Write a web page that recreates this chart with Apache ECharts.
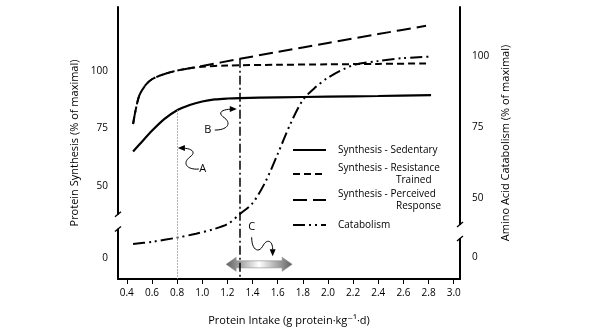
<!DOCTYPE html>
<html>
<head>
<meta charset="utf-8">
<script src="https://cdn.jsdelivr.net/npm/echarts@6/dist/echarts.min.js"></script>
<style>
  html, body { margin: 0; padding: 0; background: #fff; }
  #chart { width: 600px; height: 333px; }
</style>
</head>
<body>
<div id="chart"></div>
<script>
// Protein intake (g protein per kg per day) tick marks on the x axis
const intakeTicks = [0.4, 0.6, 0.8, 1.0, 1.2, 1.4, 1.6, 1.8, 2.0, 2.2, 2.4, 2.6, 2.8, 3.0];
const synthesisTicks = [0, 50, 75, 100];
const catabolismTicks = [0, 50, 75, 100];

// Protein synthesis (% of maximal), left axis
const sedentary = [
  [0.45, 65], [0.5, 68], [0.6, 74], [0.7, 79.2], [0.8, 83], [0.9, 85.3], [1.0, 86.8],
  [1.1, 87.7], [1.2, 88.1], [1.3, 88.3], [1.6, 88.6], [2.0, 88.9], [2.4, 89.2], [2.82, 89.6]
];
const resistanceTrained = [
  [0.45, 77], [0.47, 83], [0.5, 89.5], [0.55, 94], [0.6, 96.5], [0.7, 98.8], [0.8, 100.3],
  [0.9, 101.3], [1.0, 102], [1.2, 102.5], [1.6, 102.8], [2.0, 103], [2.4, 103.2], [2.78, 103.4]
];
const perceivedResponse = [
  [0.45, 77], [0.47, 83], [0.5, 89.5], [0.55, 94], [0.6, 96.5], [0.7, 98.8], [0.8, 100.3],
  [0.9, 101.3], [1.0, 102.3], [1.3, 105.4], [1.6, 108.4], [2.0, 112.3], [2.4, 116.2], [2.78, 119.8]
];

// Amino acid catabolism (% of maximal), right axis
const catabolism = [
  [0.45, 4.6], [0.6, 5.4], [0.8, 8], [0.95, 18], [1.08, 29], [1.2, 40.8], [1.3, 44.4],
  [1.4, 48.2], [1.5, 55.5], [1.6, 65.5], [1.7, 76], [1.8, 84.5], [1.9, 89], [2.0, 92.4],
  [2.2, 96.8], [2.4, 98.3], [2.6, 99.3], [2.8, 99.8]
];

// Reference intakes: RDA and the sedentary plateau
const rdaIntake = 0.8;
const plateauIntake = 1.3;

// Broken value ranges of the two y axes
const synthesisBreak = { start: 13, end: 37.4, gap: 6 };
const catabolismBreak = { start: 6.7, end: 40.5, gap: 4.6 };

// Callout tips (A, B, C) in intake / synthesis units
const calloutLetters = ['A', 'B', 'C'];
const calloutTips = [[0.806, 66.5], [1.275, 83.5], [1.56, 0.9]];

// Recommended intake range shown by the double arrow
const rangeArrow = [1.19, 1.715, -2.6];

const FONT = '"Open Sans", "DejaVu Sans", sans-serif';
const X_MIN = 0.33, X_MAX = 3.05;

function valueAt(series, x) {
  const p = series.find(d => d[0] === x);
  return p ? p[1] : null;
}

// Squiggly leader shapes, relative to each callout tip (pixels)
const calloutGlyphs = {
  A: { text: [25, 21], path: 'M21,21 C9,22 4,15 12,9 C19,4 14,0 3,0', head: [[0, 0], [7, -3], [7, 3]] },
  B: { text: [-29, 21], path: 'M-22,21 C-10,21 -5,15 -12,9 C-20,4 -16,0 -3,0', head: [[0, 0], [-7, -3], [-7, 3]] },
  C: { text: [-21, -29], path: 'M-21,-19 C-21,-6 -14,-3 -10,-10 C-6,-18 0,-16 0,-7', head: [[0, 0], [-3, -7], [3, -7]] }
};

function breakGlyph(lo, hi) {
  const x = lo[0];
  return {
    type: 'group',
    children: [
      { type: 'rect', shape: { x: x - 3, y: hi[1], width: 6, height: lo[1] - hi[1] }, style: { fill: '#fff' } },
      { type: 'line', shape: { x1: x - 3, y1: hi[1] + 2, x2: x + 3, y2: hi[1] - 3 }, style: { stroke: '#000', lineWidth: 1.3 } },
      { type: 'line', shape: { x1: x - 3, y1: lo[1] + 3, x2: x + 3, y2: lo[1] - 2 }, style: { stroke: '#000', lineWidth: 1.3 } }
    ]
  };
}

const legendRows = [
  { name: 'Synthesis - Sedentary', label: '{a|Synthesis - Sedentary}', top: 145 },
  { name: 'Synthesis - Resistance Trained', label: '{a|Synthesis - Resistance}\n{b|Trained}', top: 163 },
  { name: 'Synthesis - Perceived Response', label: '{a|Synthesis - Perceived}\n{b|Response}', top: 189 },
  { name: 'Catabolism', label: '{a|Catabolism}', top: 220 }
];

const chart = echarts.init(document.getElementById('chart'), null, { renderer: 'canvas' });

const axisText = { fontFamily: FONT, fontSize: 10, color: '#000' };
const nameText = { fontFamily: FONT, fontSize: 11, color: '#000' };
const curveSmooth = 0.3;

chart.setOption({
  animation: false,
  color: ['#000'],
  textStyle: { fontFamily: FONT },
  grid: { left: 118, right: 140, top: 7, bottom: 54 },
  legend: legendRows.map(row => ({
    data: [row.name],
    left: 292,
    top: row.top,
    padding: 0,
    itemWidth: 33,
    itemHeight: 10,
    selectedMode: false,
    itemStyle: { color: 'rgba(0,0,0,0)', borderWidth: 0, opacity: 0 },
    formatter: () => row.label,
    textStyle: {
      rich: {
        a: { fontFamily: FONT, fontSize: 10, lineHeight: 12, color: '#000', padding: [0, 0, 0, 7] },
        b: { fontFamily: FONT, fontSize: 10, lineHeight: 12, color: '#000', padding: [0, 0, 0, 65] }
      }
    }
  })),
  xAxis: {
    type: 'value',
    min: X_MIN,
    max: X_MAX,
    name: 'Protein Intake (g protein·kg⁻¹·d)',
    nameLocation: 'middle',
    nameGap: 36,
    nameTextStyle: nameText,
    axisLine: { show: true, onZero: false, lineStyle: { color: '#000', width: 2 } },
    axisTick: { show: true, customValues: intakeTicks, length: 5, lineStyle: { color: '#000', width: 1 } },
    axisLabel: { customValues: intakeTicks, formatter: v => v.toFixed(1), margin: 9, ...axisText },
    splitLine: { show: false }
  },
  yAxis: [
    {
      type: 'value',
      position: 'left',
      min: -9,
      max: 128,
      breaks: [synthesisBreak],
      breakArea: { show: false },
      name: 'Protein Synthesis (% of maximal)',
      nameLocation: 'middle',
      nameRotate: 90,
      nameGap: 36,
      nameTextStyle: nameText,
      axisLine: { show: true, onZero: false, lineStyle: { color: '#000', width: 2 } },
      axisTick: { show: false },
      axisLabel: { customValues: synthesisTicks, margin: 10, ...axisText },
      splitLine: { show: false }
    },
    {
      type: 'value',
      position: 'right',
      min: -7.7,
      max: 117.3,
      breaks: [catabolismBreak],
      breakArea: { show: false },
      name: 'Amino Acid Catabolism (% of maximal)',
      nameLocation: 'middle',
      nameRotate: 90,
      nameGap: 33,
      nameTextStyle: nameText,
      axisLine: { show: true, onZero: false, lineStyle: { color: '#000', width: 2 } },
      axisTick: { show: false },
      axisLabel: { customValues: catabolismTicks, margin: 12, ...axisText },
      splitLine: { show: false }
    }
  ],
  series: [
    {
      type: 'custom',
      name: 'range',
      silent: true,
      z: 1,
      xAxisIndex: 0,
      yAxisIndex: 0,
      data: [rangeArrow],
      renderItem(params, api) {
        const a = api.coord([api.value(0), api.value(2)]);
        const b = api.coord([api.value(1), api.value(2)]);
        const y = a[1], x1 = a[0], x2 = b[0], h = 10;
        return {
          type: 'polygon',
          shape: {
            points: [[x1, y], [x1 + h, y - 7], [x1 + h, y - 3.5], [x2 - h, y - 3.5], [x2 - h, y - 7],
                     [x2, y], [x2 - h, y + 7], [x2 - h, y + 3.5], [x1 + h, y + 3.5], [x1 + h, y + 7]]
          },
          style: {
            fill: new echarts.graphic.LinearGradient(0, 0, 1, 0, [
              { offset: 0, color: '#5e5e5e' }, { offset: 0.5, color: '#ffffff' }, { offset: 1, color: '#5e5e5e' }
            ]),
            stroke: '#8a8a8a',
            lineWidth: 0.6
          }
        };
      }
    },
    {
      name: 'Synthesis - Sedentary',
      type: 'line',
      yAxisIndex: 0,
      data: sedentary,
      smooth: curveSmooth,
      symbol: 'none',
      lineStyle: { color: '#000', width: 2.2 },
      markLine: {
        silent: true,
        symbol: ['none', 'none'],
        label: { show: false },
        lineStyle: { color: '#9a9a9a', width: 1, type: [1.5, 1.5] },
        data: [[{ coord: [rdaIntake, valueAt(sedentary, rdaIntake)] }, { coord: [rdaIntake, -9] }]]
      }
    },
    {
      name: 'Synthesis - Resistance Trained',
      type: 'line',
      yAxisIndex: 0,
      data: resistanceTrained,
      smooth: curveSmooth,
      symbol: 'none',
      lineStyle: { color: '#000', width: 2, type: [7, 4] }
    },
    {
      name: 'Synthesis - Perceived Response',
      type: 'line',
      yAxisIndex: 0,
      data: perceivedResponse,
      smooth: curveSmooth,
      symbol: 'none',
      lineStyle: { color: '#000', width: 2, type: [14, 6] },
      markLine: {
        silent: true,
        symbol: ['none', 'none'],
        label: { show: false },
        lineStyle: { color: '#000', width: 1.5, type: [9, 3, 2, 3] },
        data: [[{ coord: [plateauIntake, valueAt(perceivedResponse, plateauIntake)] }, { coord: [plateauIntake, -9] }]]
      }
    },
    {
      name: 'Catabolism',
      type: 'line',
      yAxisIndex: 1,
      data: catabolism,
      smooth: curveSmooth,
      symbol: 'none',
      lineStyle: { color: '#000', width: 2, type: [12, 4, 2, 4, 2, 4] }
    },
    {
      type: 'custom',
      name: 'callouts',
      silent: true,
      z: 6,
      xAxisIndex: 0,
      yAxisIndex: 0,
      data: calloutTips,
      renderItem(params, api) {
        const tip = api.coord([api.value(0), api.value(1)]);
        const g = calloutGlyphs[calloutLetters[params.dataIndex]];
        return {
          type: 'group',
          x: tip[0],
          y: tip[1],
          children: [
            { type: 'path', shape: { pathData: g.path }, style: { stroke: '#000', fill: null, lineWidth: 1 } },
            { type: 'polygon', shape: { points: g.head }, style: { fill: '#000' } },
            {
              type: 'text',
              x: g.text[0],
              y: g.text[1],
              style: {
                text: calloutLetters[params.dataIndex],
                fontFamily: FONT,
                fontSize: 11,
                fill: '#000',
                align: 'center',
                verticalAlign: 'middle'
              }
            }
          ]
        };
      }
    },
    {
      type: 'custom',
      name: 'synthesisBreak',
      silent: true,
      z: 10,
      xAxisIndex: 0,
      yAxisIndex: 0,
      data: [[X_MIN, synthesisBreak.start, synthesisBreak.end]],
      renderItem(params, api) {
        return breakGlyph(api.coord([api.value(0), api.value(1)]), api.coord([api.value(0), api.value(2)]));
      }
    },
    {
      type: 'custom',
      name: 'catabolismBreak',
      silent: true,
      z: 10,
      xAxisIndex: 0,
      yAxisIndex: 1,
      data: [[X_MAX, catabolismBreak.start, catabolismBreak.end]],
      renderItem(params, api) {
        return breakGlyph(api.coord([api.value(0), api.value(1)]), api.coord([api.value(0), api.value(2)]));
      }
    }
  ]
});
</script>
</body>
</html>
